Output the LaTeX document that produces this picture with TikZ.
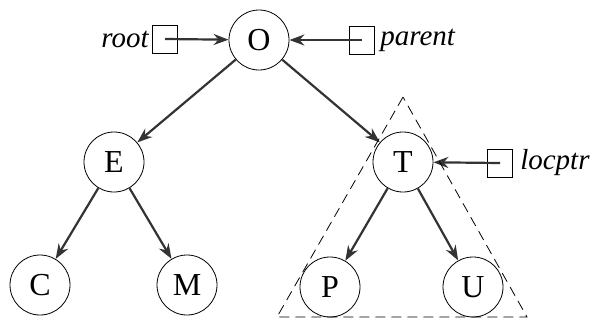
\documentclass[tikz,border=0pt]{standalone}
\usepackage{fontspec}
\setmainfont{Liberation Serif}
\usetikzlibrary{arrows.meta}

\begin{document}
\begin{tikzpicture}[x=0.5pt,y=-0.5pt,
    treenode/.style={circle,draw,thin,minimum size=30pt,inner sep=0pt,font=\fontsize{16}{18}\selectfont},
    ptrbox/.style={draw,thin,minimum width=12.5pt,minimum height=14pt,inner sep=0pt},
    ptrname/.style={font=\fontsize{14.5}{17}\selectfont\itshape,inner sep=1.5pt},
    link/.style={-{Stealth[length=7.5pt,width=5.5pt]},line width=1.1pt,draw=black!80}]
    \useasboundingbox (0,0) rectangle (598,322);

    % Tree nodes
    \node[treenode] (O) at (259,40) {O};
    \node[treenode] (E) at (114,162) {E};
    \node[treenode] (T) at (403,162) {T};
    \node[treenode] (C) at (40,285) {C};
    \node[treenode] (M) at (187,285) {M};
    \node[treenode] (P) at (330,287) {P};
    \node[treenode] (U) at (473,287) {U};

    % Pointer boxes
    \node[ptrbox] (root) at (165,39) {};
    \node[ptrbox] (parent) at (362,40) {};
    \node[ptrbox] (locptr) at (500,163) {};
    \node[ptrname,anchor=east] (rootlbl) at (root.west) {root};
    \node[ptrname,anchor=west] (parentlbl) at ([xshift=1pt]parent.east) {parent};
    \node[ptrname,anchor=west] (locptrlbl) at ([xshift=2pt]locptr.east) {locptr};

    % Links
    \draw[link] (O) -- (E);
    \draw[link] (O) -- (T);
    \draw[link] (E) -- (C);
    \draw[link] (E) -- (M);
    \draw[link] (T) -- (P);
    \draw[link] (T) -- (U);
    \draw[link] (root.center) -- (O);
    \draw[link] (parent.center) -- (O);
    \draw[link] (locptr.center) -- (T);

    % Subtree
    \draw[thin,dash pattern=on 5pt off 3pt] (403,97) -- (277,317) -- (527,317) -- cycle;
\end{tikzpicture}
\end{document}
